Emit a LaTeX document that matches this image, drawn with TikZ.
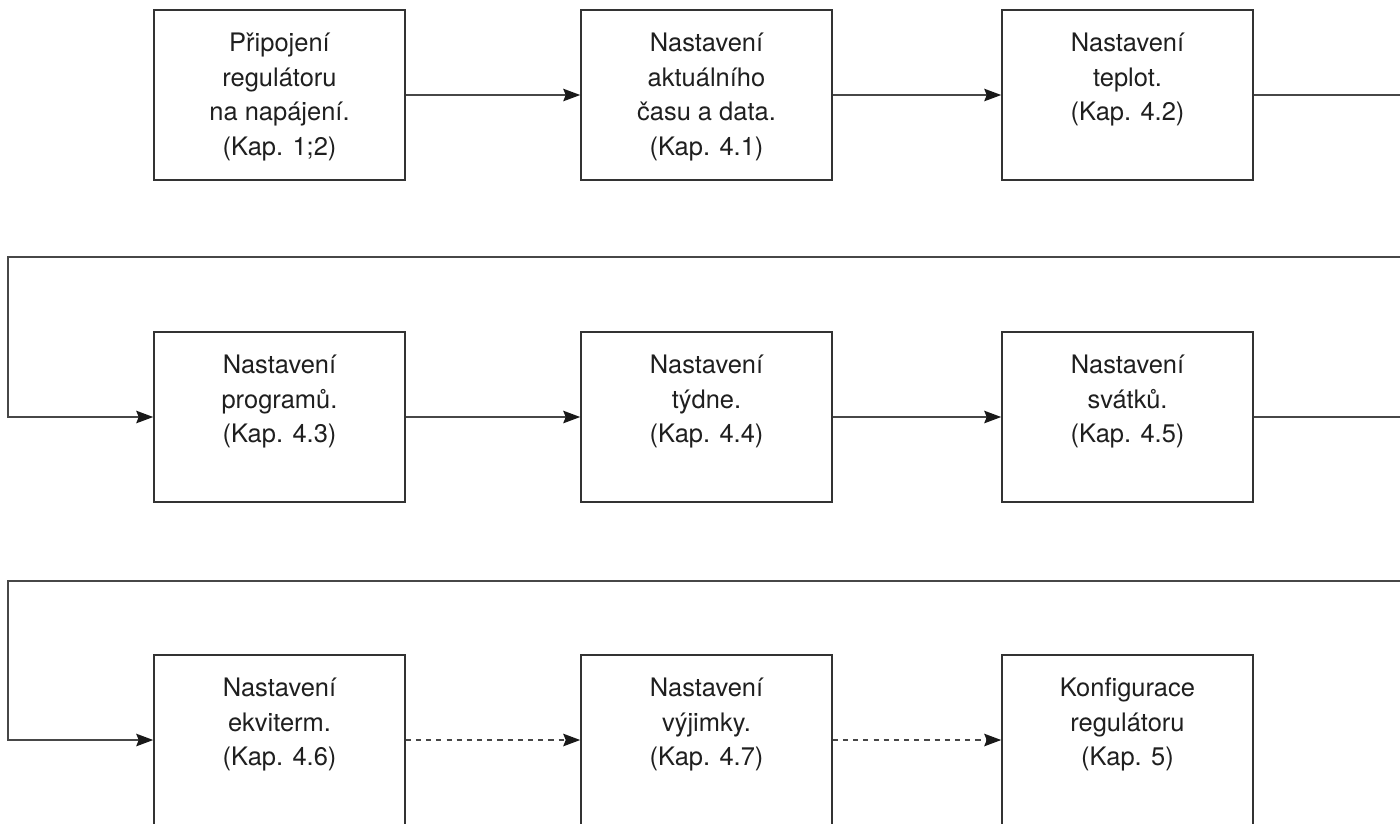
\documentclass[tikz,border=0pt]{standalone}
\usepackage{fontspec}
\setmainfont{TeX Gyre Heros}
\usetikzlibrary{arrows.meta}
\begin{document}
\begin{tikzpicture}[x=0.02cm,y=-0.02cm,
  stepbox/.style={draw=black!80, line width=0.9pt, minimum width=5.02cm, minimum height=3.4cm, inner sep=0pt},
  txt/.style={anchor=north, inner sep=0pt, align=center, text=black!88,
    font=\fontsize{14.5pt}{19.7pt}\selectfont},
  flow/.style={draw=black!72, line width=0.9pt,
    -{Stealth[length=0.34cm,width=0.25cm,inset=0.05cm,color=black!90]}},
  dashflow/.style={flow, dash pattern=on 2.9pt off 2.9pt}]
\useasboundingbox (0,0) rectangle (1400,823);
\clip (0,0) rectangle (1400,823);
\fill[white] (0,0) rectangle (1400,823);

% boxes
\node[stepbox] (b1) at (279.5,95) {};
\node[stepbox] (b2) at (706.5,95) {};
\node[stepbox] (b3) at (1127.5,95) {};
\node[stepbox] (b4) at (279.5,417) {};
\node[stepbox] (b5) at (706.5,417) {};
\node[stepbox] (b6) at (1127.5,417) {};
\node[stepbox] (b7) at (279.5,740) {};
\node[stepbox] (b8) at (706.5,740) {};
\node[stepbox] (b9) at (1127.5,740) {};

% box texts
\node[txt] (t1) at ([yshift=-0.47cm]b1.north) {Připojení\\regulátoru\\na napájení.\\(Kap. 1;2)};
\node[txt] (t2) at ([yshift=-0.47cm]b2.north) {Nastavení\\aktuálního\\času a data.\\(Kap. 4.1)};
\node[txt] (t3) at ([yshift=-0.47cm]b3.north) {Nastavení\\teplot.\\(Kap. 4.2)};
\node[txt] (t4) at ([yshift=-0.47cm]b4.north) {Nastavení\\programů.\\(Kap. 4.3)};
\node[txt] (t5) at ([yshift=-0.47cm]b5.north) {Nastavení\\týdne.\\(Kap. 4.4)};
\node[txt] (t6) at ([yshift=-0.47cm]b6.north) {Nastavení\\svátků.\\(Kap. 4.5)};
\node[txt] (t7) at ([yshift=-0.47cm]b7.north) {Nastavení\\ekviterm.\\(Kap. 4.6)};
\node[txt] (t8) at ([yshift=-0.47cm]b8.north) {Nastavení\\výjimky.\\(Kap. 4.7)};
\node[txt] (t9) at ([yshift=-0.47cm]b9.north) {Konfigurace\\regulátoru\\(Kap. 5)};

% routing points for the row wrap-arounds
\coordinate (r1) at (1410,257);
\coordinate (l1) at (8,257);
\coordinate (r2) at (1410,581);
\coordinate (l2) at (8,581);

% connectors
\draw[flow] (b1) -- (b2);
\draw[flow] (b2) -- (b3);
\draw[flow] (b3.east) -- (b3.east -| r1) -- (r1) -- (l1) -- (l1 |- b4.west) -- (b4.west);
\draw[flow] (b4) -- (b5);
\draw[flow] (b5) -- (b6);
\draw[flow] (b6.east) -- (b6.east -| r2) -- (r2) -- (l2) -- (l2 |- b7.west) -- (b7.west);
\draw[dashflow] (b7) -- (b8);
\draw[dashflow] (b8) -- (b9);
\end{tikzpicture}
\end{document}
